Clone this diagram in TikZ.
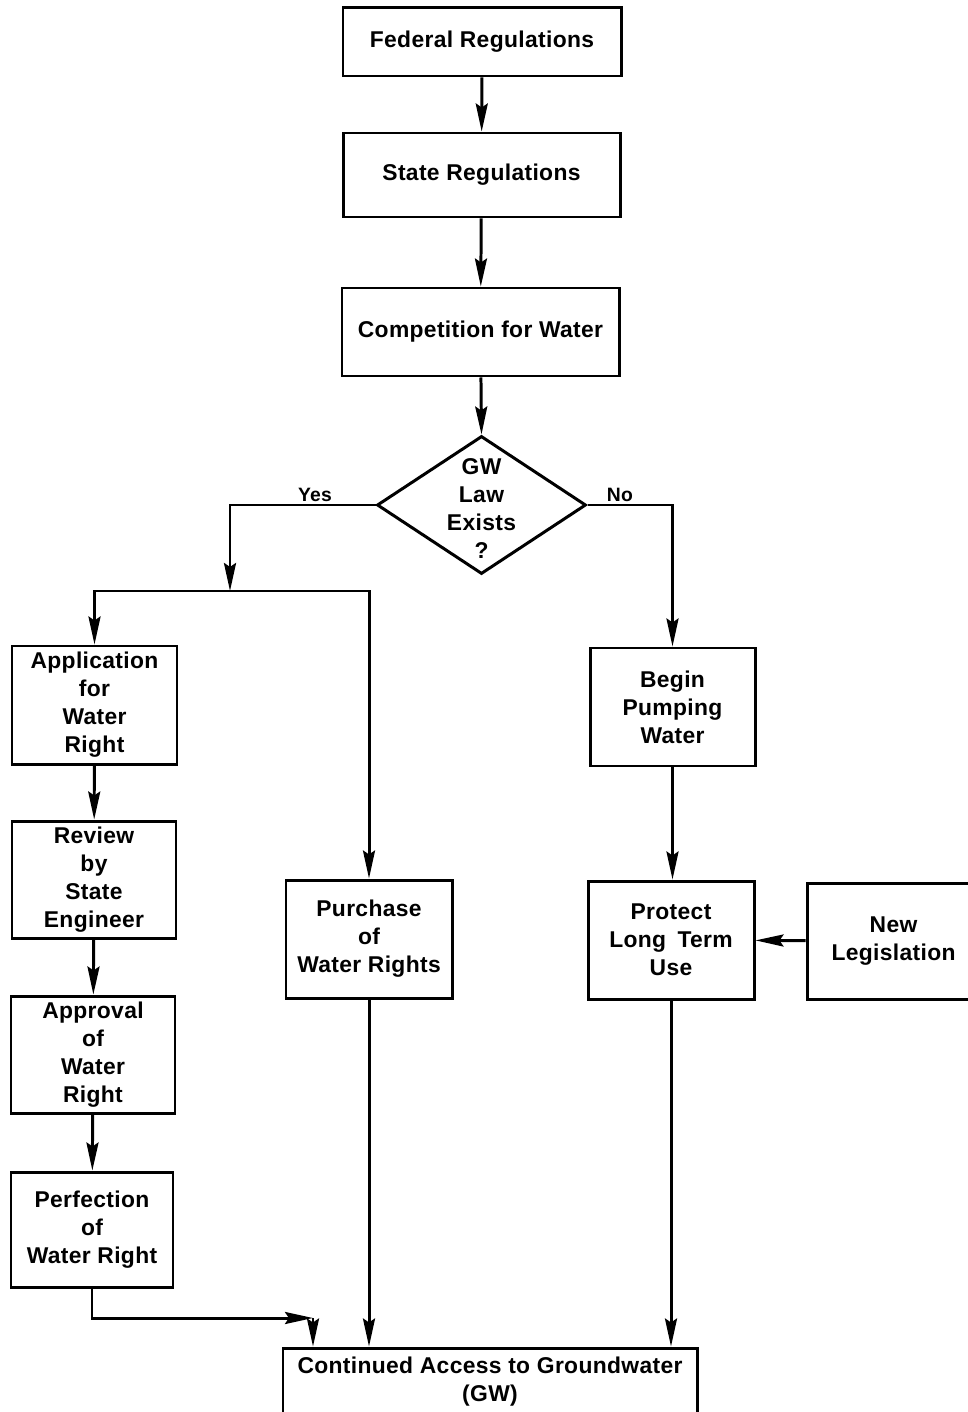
\documentclass[tikz,border=0pt]{standalone}
\usepackage{fontspec}
\setmainfont[LetterSpace=1.5]{Liberation Sans}
\usetikzlibrary{arrows.meta,shapes.geometric}
\begin{document}
\begin{tikzpicture}[
  line width=1.7pt,
  every node/.style={font=\fontsize{13}{15.9}\selectfont\bfseries},
  box/.style={draw, rectangle, align=center, inner sep=0pt},
  arr/.style={-{Stealth[length=0.56cm,width=0.24cm,inset=0.08cm]}},
  lbl/.style={font=\fontsize{11}{13}\selectfont\bfseries, inner sep=1pt}
]
\useasboundingbox (0,0) rectangle (19.34,-28.24);

% main spine
\node[box, minimum width=5.56cm, minimum height=1.36cm] (fed) at (9.64,-0.84) {Federal Regulations};
\node[box, minimum width=5.54cm, minimum height=1.68cm] (state) at (9.63,-3.5) {State Regulations};
\node[box, minimum width=5.54cm, minimum height=1.76cm] (comp) at (9.61,-6.64) {Competition for Water};

% decision
\node[draw, diamond, minimum width=4.18cm, minimum height=2.76cm, inner sep=0pt] (gw) at (9.63,-10.1) {};
\node[align=center, inner sep=0pt] (gwtext) at (9.63,-10.17) {GW\\Law\\Exists\\?};

% "yes" branch
\node[box, minimum width=3.3cm, minimum height=2.36cm] (app) at (1.89,-14.1) {Application\\for\\Water\\Right};
\node[box, minimum width=3.28cm, minimum height=2.34cm] (rev) at (1.88,-17.59) {Review\\by\\State\\Engineer};
\node[box, minimum width=3.28cm, minimum height=2.34cm] (appr) at (1.86,-21.09) {Approval\\of\\Water\\Right};
\node[box, minimum width=3.24cm, minimum height=2.3cm] (perf) at (1.84,-24.59) {Perfection\\of\\Water Right};
\node[box, minimum width=3.32cm, minimum height=2.36cm] (purch) at (7.38,-18.78) {Purchase\\of\\Water Rights};

% "no" branch
\node[box, minimum width=3.3cm, minimum height=2.36cm] (begin) at (13.45,-14.14) {Begin\\Pumping\\Water};
\node[box, minimum width=3.32cm, minimum height=2.36cm] (prot) at (13.42,-18.8) {Protect\\Long\enspace Term\\Use};
\node[box, minimum width=3.46cm, minimum height=2.32cm] (newleg) at (17.87,-18.82) {New\\Legislation};

% outcome
\node[box, minimum width=8.28cm, minimum height=1.36cm] (cont) at (9.8,-27.64) {Continued Access to Groundwater\\(GW)};

% junction points
\coordinate (ysplit) at (4.6,-11.82);
\coordinate (jn) at (6.26,-26.36);

% connectors
\draw[arr] (fed) -- (state);
\draw[arr] (state) -- (comp);
\draw[arr] (comp) -- (gw.north);

\draw[arr] (gw.west) -| (ysplit);
\draw[arr] (ysplit) -| (app.north);
\draw[arr] (ysplit) -| (purch.north);
\node[lbl, anchor=south] (yes) at (6.3,-10.1) {Yes};

\draw[arr] (gw.east) -| (begin.north);
\node[lbl, anchor=south] (no) at (12.4,-10.1) {No};

\draw[arr] (app) -- (rev);
\draw[arr] (rev) -- (appr);
\draw[arr] (appr) -- (perf);
\draw[arr] (perf.south) |- (jn);
\draw[arr] (jn) -- (jn |- cont.north);

\draw[arr] (purch.south) -- (purch.south |- cont.north);

\draw[arr] (begin) -- (begin.south |- prot.north);
\draw[arr] (newleg) -- (prot);
\draw[arr] (prot.south) -- (prot.south |- cont.north);
\end{tikzpicture}
\end{document}
